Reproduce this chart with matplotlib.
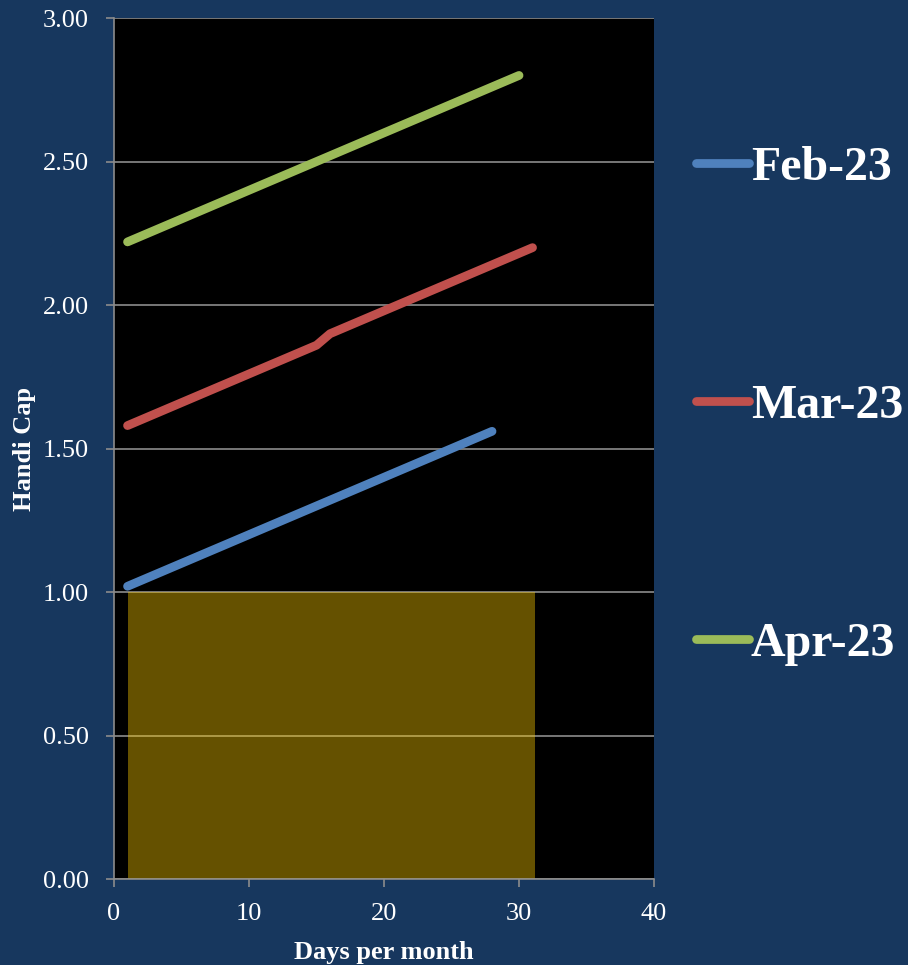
import matplotlib
matplotlib.use("Agg")
import matplotlib.pyplot as plt

# days per month and handicap values
feb_days = list(range(1, 29))
feb_cap = [1.02, 1.04, 1.06, 1.08, 1.10, 1.12, 1.14, 1.16, 1.18, 1.20,
           1.22, 1.24, 1.26, 1.28, 1.30, 1.32, 1.34, 1.36, 1.38, 1.40,
           1.42, 1.44, 1.46, 1.48, 1.50, 1.52, 1.54, 1.56]

mar_days = list(range(1, 32))
mar_cap = [1.58, 1.60, 1.62, 1.64, 1.66, 1.68, 1.70, 1.72, 1.74, 1.76,
           1.78, 1.80, 1.82, 1.84, 1.86, 1.90, 1.92, 1.94, 1.96, 1.98,
           2.00, 2.02, 2.04, 2.06, 2.08, 2.10, 2.12, 2.14, 2.16, 2.18, 2.20]

apr_days = list(range(1, 31))
apr_cap = [2.22, 2.24, 2.26, 2.28, 2.30, 2.32, 2.34, 2.36, 2.38, 2.40,
           2.42, 2.44, 2.46, 2.48, 2.50, 2.52, 2.54, 2.56, 2.58, 2.60,
           2.62, 2.64, 2.66, 2.68, 2.70, 2.72, 2.74, 2.76, 2.78, 2.80]

band_days = [1, 31.2]
band_cap = [1.0, 1.0]

bg = '#17375E'
serif = 'Liberation Serif'

fig = plt.figure(figsize=(9.08, 9.65), dpi=100, facecolor=bg)
ax = fig.add_axes([0.1256, 0.0891, 0.5947, 0.8922])
ax.set_facecolor('black')

ax.fill_between(band_days, 0, band_cap, color='#FFCC00', alpha=0.4, lw=0, zorder=1)

lines = []
for d, c, col, lab in [(feb_days, feb_cap, '#4F81BD', 'Feb-23'),
                       (mar_days, mar_cap, '#C0504D', 'Mar-23'),
                       (apr_days, apr_cap, '#9BBB59', 'Apr-23')]:
    ln, = ax.plot(d, c, color=col, lw=6.3, solid_capstyle='round',
                  solid_joinstyle='round', label=lab, zorder=3)
    lines.append(ln)

ax.set_xlim(0, 40)
ax.set_ylim(0, 3)
ax.set_xticks([0, 10, 20, 30, 40])
ax.set_yticks([0, 0.5, 1.0, 1.5, 2.0, 2.5, 3.0])
ax.set_yticklabels(['%.2f' % v for v in ax.get_yticks()])
ax.grid(axis='y', color='#8C8C8C', lw=1.2, zorder=0)
ax.set_axisbelow(True)

for s in ['top', 'right']:
    ax.spines[s].set_visible(False)
for s in ['left', 'bottom']:
    ax.spines[s].set_color('#8C8C8C')
    ax.spines[s].set_linewidth(1.2)
ax.tick_params(colors='#8C8C8C', length=6, width=1.2, direction='out')
for t in ax.get_xticklabels() + ax.get_yticklabels():
    t.set_fontfamily(serif)
    t.set_fontsize(19)
    t.set_color('white')
ax.tick_params(axis='x', pad=11)
ax.tick_params(axis='y', pad=12)

ax.set_xlabel('Days per month', fontfamily=serif, fontsize=19, fontweight='bold',
              color='white', labelpad=12)
ax.set_ylabel('Handi Cap', fontfamily=serif, fontsize=19, fontweight='bold',
              color='white', labelpad=5)

leg = fig.legend(handles=lines, loc='upper left', bbox_to_anchor=(0.745, 0.869),
                 frameon=False, prop={'family': serif, 'weight': 'bold', 'size': 34.5},
                 handlelength=1.12, handletextpad=0.03, labelspacing=4.05,
                 borderaxespad=0)
for t in leg.get_texts():
    t.set_color('white')

fig.savefig('out.png', dpi=100, facecolor=bg)
